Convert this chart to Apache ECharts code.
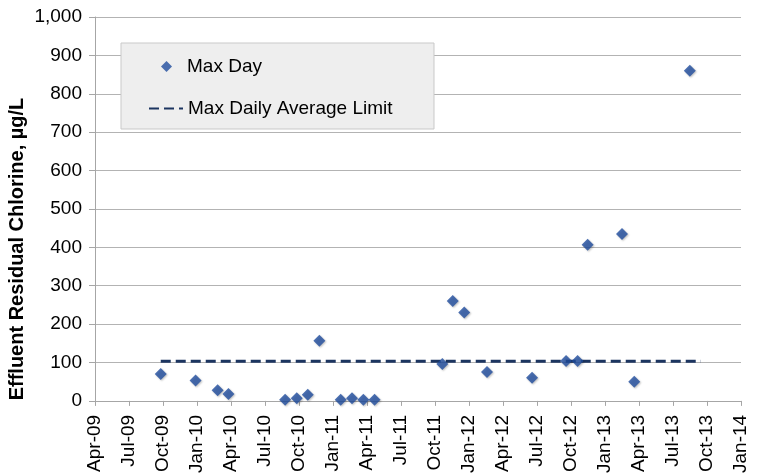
<!DOCTYPE html>
<html>
<head>
<meta charset="utf-8">
<script src="https://cdn.jsdelivr.net/npm/echarts@6/dist/echarts.min.js"></script>
<style>
  html, body { margin: 0; padding: 0; background: #fff; }
  #chart { width: 760px; height: 476px; }
</style>
</head>
<body>
<div id="chart"></div>
<script>
// data
var maxDayDates = ['2009-09-25', '2009-12-28', '2010-02-24', '2010-03-25', '2010-08-25', '2010-09-25',
  '2010-10-25', '2010-11-25', '2011-01-22', '2011-02-20', '2011-03-22', '2011-04-21',
  '2011-10-21', '2011-11-18', '2011-12-19', '2012-02-18', '2012-06-18', '2012-09-18',
  '2012-10-19', '2012-11-15', '2013-02-15', '2013-03-19', '2013-08-16'];
var maxDayValues = [70, 53, 28, 18, 3, 7, 16, 157, 3, 7, 3, 3, 96, 260, 230, 75, 60, 104, 104, 407, 435, 50, 860];
var limitDates = ['2009-09-25', '2013-09-15'];
var limitValues = [103, 103];
var monthNames = ['Jan', 'Feb', 'Mar', 'Apr', 'May', 'Jun', 'Jul', 'Aug', 'Sep', 'Oct', 'Nov', 'Dec'];

var font = '"Liberation Sans", Arial, Helvetica, sans-serif';

// months since Apr-2009 (axis works in months so quarters are evenly spaced like excel)
function toMonths(s) {
  var p = s.split('-');
  var y = +p[0], m = +p[1], d = +p[2];
  var dim = new Date(y, m, 0).getDate();
  return (y - 2009) * 12 + (m - 4) + (d - 1) / dim;
}
function pairs(dates, vals) {
  return dates.map(function (d, i) { return [toMonths(d), vals[i]]; });
}

var myChart = echarts.init(document.getElementById('chart'));
var option = {
  animation: false,
  grid: { left: 95, right: 19, top: 17, bottom: 74 },
  graphic: [
    {
      type: 'rect', z: 10,
      shape: { x: 121, y: 43, width: 313, height: 86 },
      style: { fill: '#eeeeee', stroke: '#c9c9c9', lineWidth: 1 }
    },
    {
      type: 'text', z: 10,
      x: 17, y: 249, rotation: Math.PI / 2,
      style: {
        text: 'Effluent Residual Chlorine, µg/L',
        font: 'bold 20px ' + font,
        fill: '#000', align: 'center', verticalAlign: 'middle'
      }
    }
  ],
  legend: [
    {
      data: ['Max Day'], left: 161, top: 57, z: 20,
      itemWidth: 11, itemHeight: 11, padding: 0,
      textStyle: { fontFamily: font, fontSize: 19, color: '#000', padding: [0, 0, 0, 10] }
    },
    {
      data: ['Max Daily Average Limit'], left: 148, top: 99, z: 20,
      itemWidth: 34, itemHeight: 10, padding: 0,
      itemStyle: { opacity: 0 },
      textStyle: { fontFamily: font, fontSize: 19, color: '#000' }
    }
  ],
  xAxis: {
    type: 'value', min: 0, max: 57, interval: 3,
    axisLine: { onZero: false, lineStyle: { color: '#a6a6a6', width: 1 } },
    axisTick: { show: true, length: 5, lineStyle: { color: '#a6a6a6' } },
    splitLine: { show: false },
    axisLabel: {
      rotate: 90, margin: 14, color: '#000', fontSize: 19, fontFamily: font,
      formatter: function (v) {
        var idx = 3 + v;
        var yr = 2009 + Math.floor(idx / 12);
        return monthNames[idx % 12] + '-' + String(yr).slice(2);
      }
    }
  },
  yAxis: {
    type: 'value', min: 0, max: 1000, interval: 100,
    axisLine: { show: true, lineStyle: { color: '#a6a6a6', width: 1 } },
    axisTick: { show: true, length: 6, lineStyle: { color: '#a6a6a6' } },
    splitLine: { lineStyle: { color: '#b3b3b3', width: 1 } },
    axisLabel: {
      margin: 13, color: '#000', fontSize: 19, fontFamily: font,
      formatter: function (v) { return v.toLocaleString('en-US'); }
    }
  },
  series: [
    {
      name: 'Max Day', type: 'scatter',
      symbol: 'diamond', symbolSize: 12,
      itemStyle: {
        color: '#1f4c9e',
        shadowBlur: 2, shadowColor: 'rgba(0,0,0,0.3)', shadowOffsetX: 1, shadowOffsetY: 1
      },
      data: pairs(maxDayDates, maxDayValues), z: 3
    },
    {
      name: 'Max Daily Average Limit', type: 'line',
      symbol: 'none',
      lineStyle: { color: '#1c3560', width: 3, type: [10, 5] },
      itemStyle: { color: '#1c3560' },
      data: pairs(limitDates, limitValues), z: 2
    }
  ]
};
myChart.setOption(option);
window.onresize = function () { myChart.resize(); };
</script>
</body>
</html>
